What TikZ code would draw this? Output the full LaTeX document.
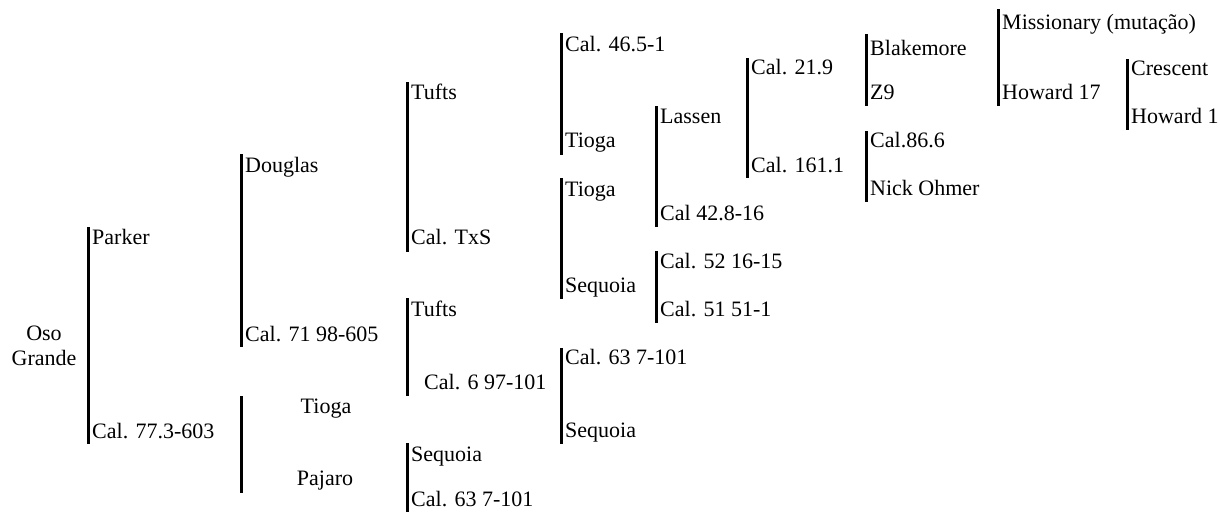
\documentclass[tikz,border=0pt]{standalone}
\usepackage{fontspec}
\setmainfont{Liberation Serif}
\begin{document}
\begin{tikzpicture}[x=1pt,y=-1pt,
  bar/.style={line width=3pt, line cap=butt},
  lbl/.style={anchor=base west, inner sep=0pt, font=\fontsize{22}{25}\selectfont},
  clbl/.style={anchor=base, inner sep=0pt, font=\fontsize{22}{25}\selectfont}]
\useasboundingbox (0,0) rectangle (1220,512);
% root
\node[clbl] (oso) at (44,340) {Oso};
\node[clbl] (grande) at (44,365) {Grande};
% Bar A
\coordinate (a1) at (88,227); \coordinate (a2) at (88,444);
\draw[bar] (a1) -- (a2);
\node[lbl] (parker) at (92,244) {Parker};
\node[lbl] (cal773) at (92,438) {Cal. 77.3-603};
% Bar B
\coordinate (b1) at (241,154); \coordinate (b2) at (241,347);
\draw[bar] (b1) -- (b2);
\node[lbl] (douglas) at (245,172) {Douglas};
\node[lbl] (cal71) at (245,341) {Cal. 71 98-605};
% Bar C
\coordinate (c1) at (241,396); \coordinate (c2) at (241,493);
\draw[bar] (c1) -- (c2);
\node[clbl] (tiogaC) at (326,413) {Tioga};
\node[clbl] (pajaro) at (325,485) {Pajaro};
% Bar D
\coordinate (d1) at (407,82); \coordinate (d2) at (407,252);
\draw[bar] (d1) -- (d2);
\node[lbl] (tuftsD) at (411,99) {Tufts};
\node[lbl] (caltxs) at (411,244) {Cal. TxS};
% Bar E
\coordinate (e1) at (407,298); \coordinate (e2) at (407,396);
\draw[bar] (e1) -- (e2);
\node[lbl] (tuftsE) at (411,316) {Tufts};
\node[lbl] (cal6) at (424,389) {Cal. 6 97-101};
% Bar F
\coordinate (f1) at (407,443); \coordinate (f2) at (407,512);
\draw[bar] (f1) -- (f2);
\node[lbl] (sequoiaF) at (411,461) {Sequoia};
\node[lbl] (cal63F) at (411,506) {Cal. 63 7-101};
% Bar G
\coordinate (g1) at (561,33); \coordinate (g2) at (561,155);
\draw[bar] (g1) -- (g2);
\node[lbl] (cal465) at (565,51) {Cal. 46.5-1};
\node[lbl] (tiogaG) at (565,147) {Tioga};
% Bar H
\coordinate (h1) at (561,178); \coordinate (h2) at (561,299);
\draw[bar] (h1) -- (h2);
\node[lbl] (tiogaH) at (565,196) {Tioga};
\node[lbl] (sequoiaH) at (565,292) {Sequoia};
% Bar I
\coordinate (i1) at (561,348); \coordinate (i2) at (561,444);
\draw[bar] (i1) -- (i2);
\node[lbl] (cal63I) at (565,364) {Cal. 63 7-101};
\node[lbl] (sequoiaI) at (565,437) {Sequoia};
% Bar J
\coordinate (j1) at (656,106); \coordinate (j2) at (656,227);
\draw[bar] (j1) -- (j2);
\node[lbl] (lassen) at (660,123) {Lassen};
\node[lbl] (cal428) at (660,220) {Cal 42.8-16};
% Bar K
\coordinate (k1) at (656,251); \coordinate (k2) at (656,323);
\draw[bar] (k1) -- (k2);
\node[lbl] (cal52) at (660,268) {Cal. 52 16-15};
\node[lbl] (cal51) at (660,316) {Cal. 51 51-1};
% Bar L
\coordinate (l1) at (747,58); \coordinate (l2) at (747,178);
\draw[bar] (l1) -- (l2);
\node[lbl] (cal219) at (751,74) {Cal. 21.9};
\node[lbl] (cal1611) at (751,172) {Cal. 161.1};
% Bar M
\coordinate (m1) at (866,34); \coordinate (m2) at (866,106);
\draw[bar] (m1) -- (m2);
\node[lbl] (blakemore) at (870,55) {Blakemore};
\node[lbl] (z9) at (870,99) {Z9};
% Bar N
\coordinate (n1) at (866,131); \coordinate (n2) at (866,202);
\draw[bar] (n1) -- (n2);
\node[lbl] (cal866) at (870,147) {Cal.86.6};
\node[lbl] (nick) at (870,195) {Nick Ohmer};
% Bar O
\coordinate (o1) at (998,9); \coordinate (o2) at (998,106);
\draw[bar] (o1) -- (o2);
\node[lbl] (missionary) at (1002,29) {Missionary (mutação)};
\node[lbl] (howard17) at (1002,99) {Howard 17};
% Bar P
\coordinate (p1) at (1127,59); \coordinate (p2) at (1127,130);
\draw[bar] (p1) -- (p2);
\node[lbl] (crescent) at (1131,75) {Crescent};
\node[lbl] (howard1) at (1131,123) {Howard 1};
\end{tikzpicture}
\end{document}
